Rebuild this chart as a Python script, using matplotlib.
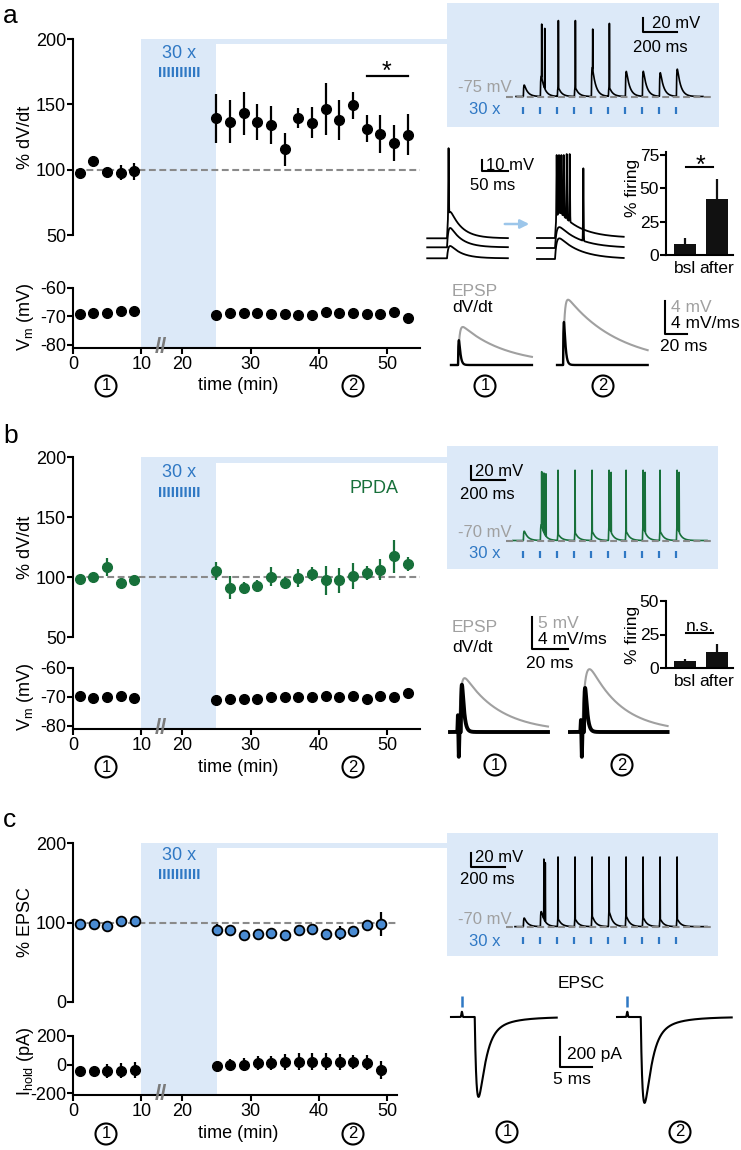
import numpy as np
import matplotlib
matplotlib.use("Agg")
import matplotlib.pyplot as plt
from matplotlib.patches import Rectangle, FancyArrowPatch
from matplotlib.transforms import blended_transform_factory

plt.rcParams['font.family'] = ['Liberation Sans', 'DejaVu Sans']
plt.rcParams['axes.unicode_minus'] = False
plt.rcParams['mathtext.fontset'] = 'custom'
plt.rcParams['mathtext.rm'] = 'Liberation Sans'
plt.rcParams['mathtext.default'] = 'rm'

# ---------------- data ----------------
t_pre = [1, 3, 5, 7, 9]
t_post = [25, 27, 29, 31, 33, 35, 37, 39, 41, 43, 45, 47, 49, 51, 53]
t_post_c = [25, 27, 29, 31, 33, 35, 37, 39, 41, 43, 45, 47, 49]

# a: % dV/dt and Vm
dvdt_a_pre = [97.7, 106.4, 98.2, 97.7, 98.7]
dvdt_a_pre_err = [1.0, 3.8, 1.5, 5.5, 6.4]
dvdt_a_post = [139.2, 136.7, 143.1, 136.7, 134.4, 115.6, 139.7, 135.9, 146.7, 137.9,
               149.2, 131.5, 127.4, 120.5, 126.9]
dvdt_a_post_err = [19.0, 16.4, 16.7, 13.8, 14.5, 12.6, 7.8, 11.8, 19.9, 15.4,
                   10.5, 10.3, 14.7, 14.0, 15.6]
vm_a_pre = [-69.3, -68.9, -68.9, -68.0, -68.1]
vm_a_post = [-69.5, -68.8, -68.9, -68.8, -69.1, -69.3, -69.4, -69.6, -68.5, -68.8,
             -68.9, -69.2, -69.2, -68.5, -70.7]
vm_a_post_err = [0, 0, 0, 0, 0, 0, 0, 0, 0, 0, 0, 0, 0, 0, 0.9]

# b: PPDA
dvdt_b_pre = [98.1, 99.7, 108.3, 95.3, 97.2]
dvdt_b_pre_err = [1.5, 1.5, 7.6, 1.5, 1.5]
dvdt_b_post = [105.0, 91.1, 91.1, 92.5, 100.3, 95.0, 99.2, 102.5, 97.2, 97.2,
               100.8, 103.1, 106.1, 117.2, 110.8]
dvdt_b_post_err = [7.4, 9.7, 4.9, 5.0, 8.0, 4.9, 7.4, 6.0, 11.8, 10.7,
                   11.0, 5.8, 8.8, 13.6, 6.1]
vm_b_pre = [-69.8, -70.5, -70.0, -69.8, -70.4]
vm_b_post = [-71.2, -70.7, -70.9, -70.7, -70.0, -70.0, -70.2, -70.0, -69.6, -70.2,
             -69.6, -70.9, -69.6, -70.0, -68.8]

# c: EPSC and holding current
epsc_pre = [98.3, 97.9, 96.2, 102.1, 101.3]
epsc_pre_err = [2, 2, 3, 2, 2]
epsc_post = [90.7, 90.7, 84.0, 85.2, 86.5, 84.0, 90.7, 92.0, 85.7, 86.5, 89.0, 97.0, 97.9]
epsc_post_err = [7.4, 3, 3, 3, 3, 3, 3, 3, 3, 9.0, 3, 3, 15.0]
ihold_pre = [-47.6, -47.6, -45.0, -43.0, -36.0]
ihold_pre_err = [20, 25, 50, 55, 56]
ihold_post = [-12, -2, -2, 10, 10, 17, 21, 21, 21, 17, 17, 12, -38]
ihold_post_err = [40, 40, 45, 50, 50, 55, 57, 60, 57, 55, 52, 52, 64]

# % firing bar insets
firing_labels = ['bsl', 'after']
firing_a = [8.2, 41.8]
firing_a_err = [4.6, 15.0]
firing_b = [5.3, 12.1]
firing_b_err = [1.5, 6.1]

# 30 x trains (ms, mV)
stim_times = [0, 100, 200, 300, 400, 500, 600, 700, 800, 900]
epsp_a = [16, 28, 12, 12, 40, 12, 35, 35, 33, 38]
spike_t_a = [110, 128, 208, 308, 410, 508]
spike_v_a = [27, 21, 32, 32, 20, 28]
epsp_b = [13, 22, 8, 10, 12, 18, 12, 18, 12, 18]
spike_t_b = [110, 123, 135, 206, 306, 406, 506, 518, 606, 706, 718, 806, 906, 918]
spike_v_b = [27, 25, 24, 29, 29, 29, 29, 26, 29, 29, 26, 29, 29, 26]
epsp_c = [12, 21, 10, 10, 14, 20, 14, 12, 10, 10]
spike_t_c = [123, 131, 206, 306, 406, 506, 606, 706, 806, 906]
spike_v_c = [25, 20, 28, 28, 28, 28, 28, 28, 28, 28]

# a: example EPSPs before / after (mV, relative)
before_amp = [24.0, 17.6, 11.2]
before_off = [18.2, 10.0, 0.0]
before_spk_t = [[3.0], [], []]
before_spk_v = [[82.0], [], []]
after_amp = [22.8, 19.0, 18.8]
after_off = [19.1, 10.0, 0.0]
after_spk_t = [[3.2, 7.7, 12.2, 16.8, 22.5, 28.2], [54.4], []]
after_spk_v = [[75.5, 75.5, 75.5, 75.5, 76.4, 76.4], [72.5], []]

# a / b: EPSP (mV) and dV/dt (mV/ms) examples at (1) and (2)
epsp_amp_a = [4.6, 7.9]
epsp_td_a = [40.0, 48.0]
dvdt_peak_a = [3.0, 5.2]
epsp_amp_b = [8.4, 9.8]
epsp_td_b = [19.8, 17.8]
dvdt_peak_b = [5.9, 5.5]
artifact_up_b = [2.1, 1.5]
artifact_down_b = [-3.1, -3.1]

# c: EPSC examples (pA)
epsc_amp = [533.0, 573.0]

# ---------------- style ----------------
BLUE = '#2f78c4'
SHADE = '#dce9f8'
GREEN = '#17703a'
GREYD = '#8a8a8a'
GREYT = '#a0a0a0'
CBLUE = '#4a8bd2'

W, H = 741, 1150
fig = plt.figure(figsize=(W / 100, H / 100), dpi=100)


def fwd(t):
    t = np.asarray(t, dtype=float)
    return np.where(t <= 10, t, np.where(t >= 20, t - 4, 10 + 0.6 * (t - 10)))


def inv(u):
    u = np.asarray(u, dtype=float)
    return np.where(u <= 10, u, np.where(u >= 16, u + 4, 10 + (u - 10) / 0.6))


def box(x0, y0, x1, y1):
    return [x0 / W, 1 - y1 / H, (x1 - x0) / W, (y1 - y0) / H]


def ftext(x, y, s, size=13, **kw):
    kw.setdefault('ha', 'left')
    kw.setdefault('va', 'center')
    fig.text(x / W, 1 - y / H, s, fontsize=size, **kw)


def frect(x0, y0, x1, y1, color=SHADE):
    fig.add_artist(Rectangle((x0 / W, 1 - y1 / H), (x1 - x0) / W, (y1 - y0) / H,
                             transform=fig.transFigure, fc=color, ec='none', zorder=-5))


def circled(x, y, s):
    ftext(x, y, s, size=12, ha='center',
          bbox=dict(boxstyle='circle,pad=0.18', fc='none', ec='k', lw=1.5))


def time_axes(b, xmax, ylim, yticks, bottom):
    ax = fig.add_axes(box(*b))
    ax.set_xscale('function', functions=(fwd, inv))
    ax.set_xlim(0, xmax)
    ax.set_ylim(*ylim)
    ax.set_yticks(yticks)
    ax.patch.set_visible(False)
    ax.spines[['top', 'right']].set_visible(False)
    ax.spines['left'].set_linewidth(1.5)
    ax.tick_params(axis='y', length=4, width=1.5, pad=1, labelsize=13)
    if bottom:
        ax.spines['bottom'].set_linewidth(1.5)
        ax.set_xticks([0, 10, 20, 30, 40, 50])
        ax.tick_params(axis='x', length=4, width=1.5, pad=2, labelsize=13)
        tr = blended_transform_factory(ax.transData, ax.transAxes)
        ax.text(14.8, 0, '//', transform=tr, ha='center', va='center', color='#7a7a7a',
                fontsize=16, fontweight='bold', clip_on=False)
    else:
        ax.spines['bottom'].set_visible(False)
        ax.tick_params(axis='x', bottom=False, labelbottom=False)
    return ax


def shade(x1, top, bottom, xmax):
    ax = fig.add_axes(box(73, top, x1, bottom), zorder=-4)
    ax.set_xscale('function', functions=(fwd, inv))
    ax.set_xlim(0, xmax)
    ax.set_ylim(0, 1)
    ax.axvspan(10, 25, color=SHADE, lw=0)
    ax.axis('off')


def tax(b, sx, sy, ref):
    x0, y0, x1, y1 = b
    px, py, vx, vy = ref
    ax = fig.add_axes(box(*b))
    ax.set_xlim(vx - (px - x0) * sx, vx + (x1 - px) * sx)
    ax.set_ylim(vy - (y1 - py) * sy, vy + (py - y0) * sy)
    ax.axis('off')
    return ax


def sbar(ax, x, y, dx, dy):
    ax.plot([x, x, x + dx], [y + dy, y, y], color='k', lw=1.5, clip_on=False)


def kern(s, tr, td):
    s = np.clip(s, 0, None)
    sp = tr * td / (td - tr) * np.log(td / tr)
    peak = np.exp(-sp / td) - np.exp(-sp / tr)
    return (np.exp(-s / td) - np.exp(-s / tr)) / peak


def trace(t, onsets, amps, tr, td, spk_t=(), spk_v=(), w=0.7, v0=0.0):
    v = np.full(t.shape, v0, dtype=float)
    for o, a in zip(onsets, amps):
        v += a * kern(t - o, tr, td)
    sub = v.copy()
    for ts, vp in zip(spk_t, spk_v):
        v += (vp - np.interp(ts, t, sub)) * np.exp(-((t - ts) / w) ** 2)
    return v


def train_inset(b, base_px, vrest, v0, epsp, spk_t, spk_v, trange, color, bx, by):
    ax = tax(b, 5.88, 1.4, (523, base_px, 0, vrest))
    t = np.arange(trange[0], trange[1], 0.1)
    v = trace(t, [s + 2 for s in stim_times], epsp, 2.0, 20.0, spk_t, spk_v, v0=v0)
    ax.plot(t, v, color=color, lw=1.2)
    ax.plot([-100, 1117], [vrest, vrest], color=GREYD, lw=1.5, dashes=(3.3, 1.7))
    ax.vlines(stim_times, vrest - 14, vrest - 23.8, color=BLUE, lw=1.6)
    sbar(ax, bx, by, 200, 20)
    return ax


def firing_axes(b, vals, errs, ylim, yticks):
    ax = fig.add_axes(box(*b))
    ax.bar([0, 1], vals, width=0.7, color='#111111')
    ax.errorbar([0, 1], vals, yerr=[[0, 0], errs], fmt='none', ecolor='#111111',
                elinewidth=1.6, capsize=0)
    ax.set_xlim(-0.6, 1.52)
    ax.set_ylim(*ylim)
    ax.set_yticks(yticks)
    ax.set_xticks([0, 1], firing_labels)
    ax.patch.set_visible(False)
    ax.spines[['top', 'right']].set_visible(False)
    ax.spines[['left', 'bottom']].set_linewidth(1.5)
    ax.tick_params(axis='x', length=0, pad=4, labelsize=12.5)
    ax.tick_params(axis='y', length=4, width=1.5, pad=1, labelsize=12.5)
    return ax


def dashed(ax, x0, x1):
    ax.plot([x0, x1], [100, 100], color=GREYD, lw=1.5, dashes=(3.3, 1.7), zorder=1)


def decorations(top, bottom, inset_box, band_h, ytext, ytrain, yrow, xmax, x1):
    shade(x1, top, bottom, xmax)
    frect(214, top, 448, top + band_h)
    frect(*inset_box)
    ftext(179, ytext, '30 x', color=BLUE, ha='center')
    ftext(179.5, ytrain, 'IIIIIIIIII', size=11, color=BLUE, ha='center', va='baseline',
          fontweight='bold')
    circled(106, yrow, '1')
    circled(353, yrow, '2')
    ftext(238, yrow, 'time (min)', ha='center')


# ======================= panel a =======================
ftext(3, 23, 'a', size=19, va='baseline')
decorations(39, 348, (447, 3, 719, 127), 5, 53, 77, 386, 54.8, 420)

ax = time_axes((73, 39, 420, 235), 54.8, (50, 200), [50, 100, 150, 200], False)
dashed(ax, 0.5, 54.8)
ax.errorbar(t_pre, dvdt_a_pre, yerr=dvdt_a_pre_err, fmt='o', color='k', ms=7,
            elinewidth=1.6, capsize=0)
ax.errorbar(t_post, dvdt_a_post, yerr=dvdt_a_post_err, fmt='o', color='k', ms=7,
            elinewidth=1.6, capsize=0)
ax.plot([47, 53], [172, 172], color='k', lw=1.6)
ftext(386, 78.5, '*', size=18, ha='center', va='baseline')
ftext(25, 137, '% dV/dt', rotation=90, ha='center')

ax = time_axes((73, 288, 420, 348), 54.8, (-81.2, -60), [-80, -70, -60], True)
ax.errorbar(t_pre, vm_a_pre, fmt='o', color='k', ms=7)
ax.errorbar(t_post, vm_a_post, yerr=vm_a_post_err, fmt='o', color='k', ms=7,
            elinewidth=1.6, capsize=0)
ftext(25, 317, 'V$_{m}$ (mV)', rotation=90, ha='center')

# train inset
train_inset((447, 3, 719, 127), 97, -75, -74.3, epsp_a, spike_t_a, spike_v_a,
            (-41, 1058), 'k', 706, 15.6)
ftext(652, 24, '20 mV', size=12)
ftext(660, 47, '200 ms', size=12, ha='center')
ftext(512, 88, '-75 mV', size=12, ha='right', color=GREYT)
ftext(485, 110, '30 x', size=12, ha='center', color=BLUE)

# example traces before / after
axm = tax((420, 135, 530, 275), 1.92, 0.91, (447, 258.3, 0, 0))
t = np.arange(-38, 117, 0.1)
for amp, off, st, sv in zip(before_amp, before_off, before_spk_t, before_spk_v):
    v = trace(t, [0.0], [amp], 2.5, 22.0, st, [off + p for p in sv], v0=off)
    axm.plot(t, v, color='k', lw=1.3)
sbar(axm, 67, 79.5, 50, 10)
ftext(486, 165.7, '10 mV', size=12)
ftext(493, 186, '50 ms', size=12, ha='center')

axm = tax((530, 135, 640, 275), 1.92, 0.91, (555, 259, 0, 0))
t = np.arange(-34.6, 132, 0.1)
for amp, off, st, sv in zip(after_amp, after_off, after_spk_t, after_spk_v):
    v = trace(t, [0.0], [amp], 3.0, 40.0, st, [off + p for p in sv], v0=off)
    axm.plot(t, v, color='k', lw=1.3)
fig.add_artist(FancyArrowPatch((502 / W, 1 - 224 / H), (532 / W, 1 - 224 / H),
                               transform=fig.transFigure, arrowstyle='-|>',
                               mutation_scale=13, color='#9cc6ea', lw=1.8))

axf = firing_axes((666, 152, 733, 255), firing_a, firing_a_err, (0, 77), [0, 25, 50, 75])
axf.plot([0.03, 0.9], [65.8, 65.8], color='k', lw=1.5)
ftext(700, 172.5, '*', size=18, ha='center', va='baseline')
ftext(632, 188, '% firing', size=12.5, rotation=90, ha='center')

# EPSP / dV/dt examples
axe = tax((440, 285, 720, 380), 0.91, 0.121, (451, 365, 0, 0))
for rng, on, amp, td, dv in zip([(0, 73.7), (96.5, 179)], [6.4, 102.0],
                                epsp_amp_a, epsp_td_a, dvdt_peak_a):
    t = np.arange(rng[0], rng[1], 0.05)
    axe.plot(t, trace(t, [on], [amp], 1.2, td), color=GREYT, lw=1.5)
    axe.plot(t, dv * kern(t - on, 0.5, 1.2), color='k', lw=1.7)
sbar(axe, 195, 3.75, 20, 4)
ftext(452, 291.5, 'EPSP', size=12.5, color=GREYT)
ftext(452, 307.5, 'dV/dt', size=12.5)
ftext(671, 308, '4 mV', size=12.5, color=GREYT)
ftext(671, 323.5, '4 mV/ms', size=12.5)
ftext(660, 346.5, '20 ms', size=12.5)
circled(485, 386, '1')
circled(603, 386, '2')

# ======================= panel b =======================
ftext(3, 443, 'b', size=19, va='baseline')
decorations(457, 729, (447, 446, 718, 569), 6, 472.5, 497, 767, 54.8, 420)

ax = time_axes((73, 457, 420, 637), 54.8, (50, 200), [50, 100, 150, 200], False)
dashed(ax, 0.5, 54.8)
ax.errorbar(t_pre, dvdt_b_pre, yerr=dvdt_b_pre_err, fmt='o', color=GREEN, ms=7,
            elinewidth=1.6, capsize=0)
ax.errorbar(t_post, dvdt_b_post, yerr=dvdt_b_post_err, fmt='o', color=GREEN, ms=7,
            elinewidth=1.6, capsize=0)
ftext(374, 489, 'PPDA', color=GREEN, ha='center')
ftext(25, 547, '% dV/dt', rotation=90, ha='center')

ax = time_axes((73, 668, 420, 729), 54.8, (-81.2, -60), [-80, -70, -60], True)
ax.errorbar(t_pre, vm_b_pre, fmt='o', color='k', ms=7)
ax.errorbar(t_post, vm_b_post, fmt='o', color='k', ms=7)
ftext(25, 697, 'V$_{m}$ (mV)', rotation=90, ha='center')

train_inset((447, 446, 718, 569), 541, -70, -69.3, epsp_b, spike_t_b, spike_v_b,
            (-59, 1082), GREEN, -306, 15.4)
ftext(475, 471, '20 mV', size=12)
ftext(487, 494.5, '200 ms', size=12, ha='center')
ftext(512, 532, '-70 mV', size=12, ha='right', color=GREYT)
ftext(485, 553, '30 x', size=12, ha='center', color=BLUE)

axf = firing_axes((666, 601, 733, 668), firing_b, firing_b_err, (0, 50), [0, 25, 50])
axf.plot([0.03, 0.9], [26.1, 26.1], color='k', lw=1.5)
ftext(700, 631, 'n.s.', size=12.5, ha='center', va='baseline')
ftext(632, 635, '% firing', size=12.5, rotation=90, ha='center')

axe = tax((440, 595, 720, 770), 0.556, 0.156, (450, 732, 0, 0))
for rng, on, amp, tr_, td, dv, art, up, dn in zip([(0, 54.5), (66.7, 121)], [5.0, 73.5],
                                                 epsp_amp_b, [1.0, 1.5], epsp_td_b,
                                                 dvdt_peak_b, [4.4, 72.8],
                                                 artifact_up_b, artifact_down_b):
    t = np.arange(rng[0], rng[1], 0.02)
    axe.plot(t, trace(t, [on], [amp], tr_, td), color=GREYT, lw=1.5)
    d = dv * kern(t - on - 1.0, 0.4, 1.0)
    d += up * np.exp(-((t - art) / 0.2) ** 2) + dn * np.exp(-((t - art - 0.5) / 0.2) ** 2)
    axe.plot(t, 1.25 * d, color='k', lw=2.8)
sbar(axe, 45.6, 12.95, 20, 5)
ftext(452, 628, 'EPSP', size=12.5, color=GREYT)
ftext(452, 648, 'dV/dt', size=12.5)
ftext(538, 623, '5 mV', size=12.5, color=GREYT)
ftext(538, 640, '4 mV/ms', size=12.5)
ftext(526, 663, '20 ms', size=12.5)
circled(495, 765, '1')
circled(622, 765, '2')

# ======================= panel c =======================
ftext(3, 827, 'c', size=19, va='baseline')
decorations(843, 1095, (447, 833, 718, 956), 5, 855, 879, 1134, 51.4, 397)

ax = time_axes((73, 843, 397, 1002), 51.4, (0, 200), [0, 100, 200], False)
dashed(ax, 0.5, 51.4)
ax.errorbar(t_pre, epsc_pre, yerr=epsc_pre_err, fmt='o', mfc=CBLUE, mec='k', mew=1.3,
            ecolor='k', ms=7, elinewidth=1.6, capsize=0)
ax.errorbar(t_post_c, epsc_post, yerr=epsc_post_err, fmt='o', mfc=CBLUE, mec='k', mew=1.3,
            ecolor='k', ms=7, elinewidth=1.6, capsize=0)
ftext(25, 922, '% EPSC', rotation=90, ha='center')

ax = time_axes((73, 1036, 397, 1095), 51.4, (-214, 200), [-200, 0, 200], True)
ax.errorbar(t_pre, ihold_pre, yerr=ihold_pre_err, fmt='o', color='k', ms=7,
            elinewidth=1.6, capsize=0)
ax.errorbar(t_post_c, ihold_post, yerr=ihold_post_err, fmt='o', color='k', ms=7,
            elinewidth=1.6, capsize=0)
ftext(25, 1061, 'I$_{hold}$ (pA)', rotation=90, ha='center')

train_inset((447, 833, 718, 956), 927, -70, -69.5, epsp_c, spike_t_c, spike_v_c,
            (-47, 1082), 'k', -306, 14.0)
ftext(475, 857.5, '20 mV', size=12)
ftext(487, 880, '200 ms', size=12, ha='center')
ftext(512, 919, '-70 mV', size=12, ha='right', color=GREYT)
ftext(485, 941, '30 x', size=12, ha='center', color=BLUE)

axc = tax((440, 975, 740, 1110), 0.156, 6.67, (451, 1017, 0, 0))
for rng, stim, on, amp in zip([(0, 16.5), (25.9, 43.8)], [1.7, 27.5], [3.7, 29.6], epsc_amp):
    t = np.arange(rng[0], rng[1], 0.01)
    s = np.clip(t - on, 0, None)
    k = (1 - np.exp(-s / 0.5)) * (0.88 * np.exp(-s / 1.0) + 0.12 * np.exp(-s / 3.5))
    i = -amp * k / k.max() + 35 * np.exp(-((t - stim) / 0.1) ** 2)
    axc.plot(t, i, color='k', lw=1.5)
    axc.vlines(stim, 67, 140, color=BLUE, lw=1.8)
sbar(axc, 17, -333, 5, 200)
ftext(581, 983.5, 'EPSC', size=12.5, ha='center')
ftext(567, 1055, '200 pA', size=12.5)
ftext(553, 1080, '5 ms', size=12.5)
circled(507, 1132, '1')
circled(680, 1132, '2')

fig.savefig('out.png', dpi=100)
